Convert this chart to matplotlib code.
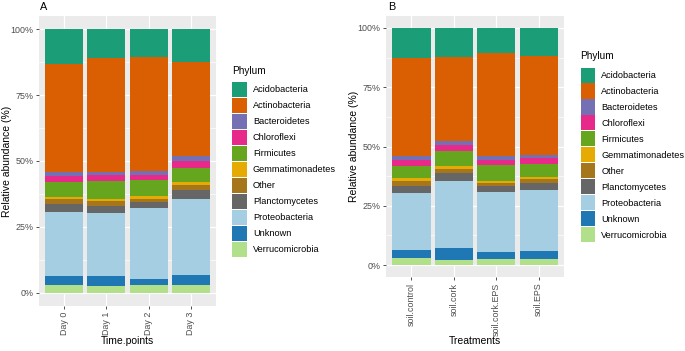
import numpy as np
import matplotlib
matplotlib.use("Agg")
import matplotlib.pyplot as plt
from matplotlib.patches import Patch

plt.rcParams['font.family'] = ['Liberation Sans', 'DejaVu Sans']

phyla = ['Acidobacteria', 'Actinobacteria', 'Bacteroidetes', 'Chloroflexi', 'Firmicutes',
         'Gemmatimonadetes', 'Other', 'Planctomycetes', 'Proteobacteria', 'Unknown',
         'Verrucomicrobia']
colors = ['#1B9E77', '#D95F02', '#7570B3', '#E7298A', '#66A61E', '#E6AB02',
          '#A6761D', '#666666', '#A6CEE3', '#1F78B4', '#B2DF8A']

# panel A : time points (percent, same order as phyla)
days = ['Day 0', 'Day 1', 'Day 2', 'Day 3']
day0 = [13.3, 40.8, 1.6, 2.4, 5.4, 1.0, 1.8, 3.0, 24.5, 3.2, 3.0]
day1 = [11.1, 43.1, 1.1, 2.4, 6.7, 0.8, 1.8, 2.8, 24.0, 3.7, 2.5]
day2 = [10.7, 43.0, 1.5, 2.0, 6.1, 1.0, 1.4, 2.2, 26.8, 2.5, 2.8]
day3 = [12.6, 35.4, 1.9, 2.6, 5.5, 1.1, 1.8, 3.5, 28.7, 4.1, 2.8]

# panel B : treatments
treatments = ['soil.control', 'soil.cork', 'soil.cork.EPS', 'soil.EPS']
control = [12.8, 41.1, 1.9, 2.3, 5.2, 1.1, 2.1, 3.0, 24.3, 3.2, 3.0]
cork = [12.2, 35.4, 1.8, 2.5, 6.3, 1.3, 1.7, 3.5, 28.1, 5.0, 2.2]
cork_eps = [10.5, 43.6, 1.7, 1.9, 6.9, 0.7, 1.5, 2.4, 25.3, 2.8, 2.7]
eps = [11.9, 41.6, 1.5, 2.5, 5.5, 0.8, 1.4, 3.2, 25.7, 3.2, 2.7]

W, H = 685, 351
fig = plt.figure(figsize=(W / 100, H / 100), dpi=100)


def px_axes(l, t, r, b):
    return fig.add_axes([l / W, 1 - b / H, (r - l) / W, (b - t) / H])


def draw_panel(ax, cats, series, xlabel):
    vals = np.array(series, dtype=float).T  # phyla x cats
    vals = vals / vals.sum(axis=0)
    x = np.arange(len(cats))
    bottom = np.zeros(len(cats))
    # ggplot stacks the first level on top, so go from the last one up
    for i in range(len(phyla) - 1, -1, -1):
        ax.bar(x, vals[i], 0.9, bottom=bottom, color=colors[i], zorder=3)
        bottom += vals[i]
    ax.set_facecolor('#EBEBEB')
    ax.set_xlim(-0.6, len(cats) - 0.4)
    ax.set_ylim(-0.05, 1.05)
    ax.set_yticks([0, 0.25, 0.5, 0.75, 1.0])
    ax.set_yticklabels(['0%', '25%', '50%', '75%', '100%'])
    ax.set_yticks([0.125, 0.375, 0.625, 0.875], minor=True)
    ax.set_xticks(x)
    ax.set_xticklabels(cats, rotation=90, va='top', ha='center')
    ax.grid(True, which='major', color='white', lw=0.9, zorder=0)
    ax.grid(True, which='minor', axis='y', color='white', lw=0.45, zorder=0)
    ax.set_axisbelow(True)
    for s in ax.spines.values():
        s.set_visible(False)
    ax.tick_params(which='major', length=2.5, width=0.6, color='#333333',
                   labelsize=6.4, labelcolor='#4D4D4D', pad=1.5)
    ax.tick_params(which='minor', length=0)
    ax.set_xlabel(xlabel, fontsize=7.5)
    ax.set_ylabel('Relative abundance (%)', fontsize=7.5)


axA = px_axes(39, 16, 216, 306)
draw_panel(axA, days, [day0, day1, day2, day3], 'Time.points')
axA.yaxis.set_label_coords(-0.15, 0.5)
axA.xaxis.set_label_coords(0.5, (306 - 336) / 290)

axB = px_axes(386, 16, 564, 277)
draw_panel(axB, treatments, [control, cork, cork_eps, eps], 'Treatments')
axB.yaxis.set_label_coords(-0.15, 0.5)
axB.xaxis.set_label_coords(0.5, (277 - 335.5) / 261)

handles = [Patch(facecolor=c, edgecolor='none') for c in colors]
for ax, lx, ty, kt in [(axA, 232, 71, 82), (axB, 580.5, 56, 67.5)]:
    fig.text(lx / W, 1 - ty / H, 'Phylum', fontsize=7.2, va='center', ha='left')
    fig.legend(handles, phyla, loc='upper left', bbox_to_anchor=(lx / W, 1 - kt / H),
               bbox_transform=fig.transFigure, frameon=False, borderpad=0,
               borderaxespad=0, fontsize=6.6, handlelength=1.63, handleheight=2.15,
               labelspacing=0.1, handletextpad=0.64)

fig.text(40 / W, 1 - 7 / H, 'A', fontsize=7.8, va='center', ha='left')
fig.text(388 / W, 1 - 7 / H, 'B', fontsize=7.8, va='center', ha='left')

fig.savefig('out.png', dpi=100)
